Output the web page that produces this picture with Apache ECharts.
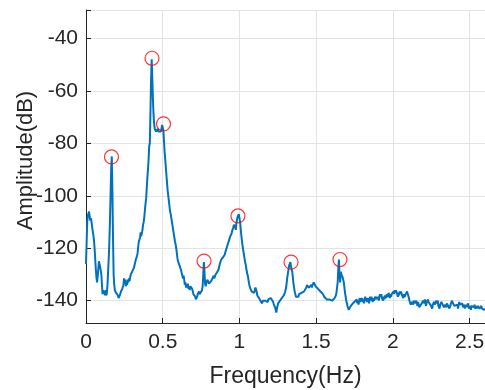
<!DOCTYPE html>
<html>
<head>
<meta charset="utf-8">
<script src="https://cdn.jsdelivr.net/npm/echarts@6/dist/echarts.min.js"></script>
<style>
  html, body { margin: 0; padding: 0; background: #fff; }
  #chart { width: 485px; height: 390px; }
</style>
</head>
<body>
<div id="chart"></div>
<script>
const freqStep = 0.004;
const amplitude = [
  /* 0.00 */ -126, -118, -110, -107.5, -108, -106, -108, -109.5, -108.5, -110,
  /* 0.04 */ -112, -113.5, -115, -117, -120, -124, -128, -131, -133, -131,
  /* 0.08 */ -128, -125, -126, -127, -126.5, -130, -134, -137.5, -136, -137.5,
  /* 0.12 */ -136.5, -138, -136, -138, -137, -134, -129, -124, -118, -110,
  /* 0.16 */ -100, -90, -85, -98, -116, -130, -134, -136, -136.5, -137,
  /* 0.20 */ -136.5, -137.5, -138, -139, -139.5, -138, -137.5, -136.5, -136, -135.5,
  /* 0.24 */ -136, -134, -131.5, -133, -132, -134.5, -133, -134, -132, -133,
  /* 0.28 */ -131.5, -132.5, -131, -130, -130.5, -129, -128.5, -129, -127.5, -127,
  /* 0.32 */ -125.5, -124.5, -125, -123, -122, -119.5, -117.5, -117, -116, -114,
  /* 0.36 */ -115.5, -115, -113, -111, -110, -108, -105.5, -103, -101, -97,
  /* 0.40 */ -93, -90, -86, -81, -80, -68, -56, -48, -55, -63,
  /* 0.44 */ -69, -72.5, -74.5, -75, -75.5, -75, -75.5, -74.5, -75.5, -75,
  /* 0.48 */ -75.5, -74.8, -75.5, -74.5, -73, -72.3, -75, -79, -83, -86,
  /* 0.52 */ -89, -92, -95, -98, -100, -102, -104, -106, -107, -108.5,
  /* 0.56 */ -110, -111.5, -113, -114.5, -116, -117.5, -118.5, -120, -122, -124,
  /* 0.60 */ -125, -125.5, -125, -127, -126.5, -128.5, -129.5, -130.5, -131.5, -130.5,
  /* 0.64 */ -132, -134, -133, -135, -134, -135, -133.5, -135.5, -134.5, -136,
  /* 0.68 */ -134.5, -135, -134, -135.5, -136.5, -137.5, -138, -137, -138.5, -139.5,
  /* 0.72 */ -140, -138.5, -137.5, -138, -136.5, -137.5, -137, -138, -137.5, -136,
  /* 0.76 */ -134.5, -130, -125.3, -129, -133.5, -134.5, -133, -133.5, -132, -132.5,
  /* 0.80 */ -133.5, -133, -134, -133.5, -132.5, -133, -131.5, -132, -130.5, -131.5,
  /* 0.84 */ -131, -130, -130.5, -129.5, -129, -129.5, -128, -127.5, -126, -125.5,
  /* 0.88 */ -124.5, -124, -124.5, -123.5, -124, -123, -122.5, -121.5, -121, -120,
  /* 0.92 */ -119.5, -118.5, -118, -117, -116.5, -115.5, -115, -114.5, -113.5, -113,
  /* 0.96 */ -112, -111, -110.5, -112, -113, -110.5, -109, -108, -107.5, -107,
  /* 1.00 */ -108.5, -110, -112.5, -115, -117, -119, -120.5, -122, -123.5, -125,
  /* 1.04 */ -126, -127.5, -129, -130, -131, -132.5, -134, -134.5, -135.5, -136,
  /* 1.08 */ -136.5, -136.5, -137, -136.5, -137, -136.5, -135, -134.5, -136.5, -138,
  /* 1.12 */ -137.5, -138.5, -139, -139.5, -140, -139.5, -140.5, -141, -140, -139.5,
  /* 1.16 */ -140, -139.5, -140, -140.5, -139.5, -140, -140.5, -139.5, -140, -139.5,
  /* 1.20 */ -140, -139, -139.5, -139, -139.5, -140.5, -141.5, -142, -142.5, -143.5,
  /* 1.24 */ -144.5, -143, -142, -141, -141.5, -140.5, -140, -139.5, -140, -139,
  /* 1.28 */ -138.5, -138.5, -138, -137.5, -137, -136, -135, -133, -131, -129.5,
  /* 1.32 */ -128, -126.5, -126, -125.3, -127, -128, -129, -131, -133.5, -135,
  /* 1.36 */ -136.5, -137.5, -138.5, -138, -138.5, -138, -138.5, -137.5, -138, -137,
  /* 1.40 */ -137.5, -137, -137.5, -136.5, -137, -136.5, -137, -136, -136.5, -135,
  /* 1.44 */ -134, -133.5, -134.5, -135, -134.5, -135.5, -135, -134, -135, -134,
  /* 1.48 */ -133.5, -133, -133.5, -133.5, -134.5, -134, -134.5, -135, -135.5, -135,
  /* 1.52 */ -136, -135.5, -136.5, -136, -137, -136.5, -137.5, -138, -138.5, -138,
  /* 1.56 */ -139, -138.5, -139.5, -139, -139.5, -140, -139.5, -140, -139, -139.5,
  /* 1.60 */ -139.5, -140, -140.5, -140, -139.5, -139, -138.5, -138, -137, -135,
  /* 1.64 */ -133, -128, -124.3, -130, -133, -129, -130, -130.5, -131, -132,
  /* 1.68 */ -133, -135, -137, -138.5, -140, -141, -142, -142.5, -143.5, -143,
  /* 1.72 */ -142.5, -142, -142.5, -141.5, -142, -141, -141.5, -140.5, -141, -140,
  /* 1.76 */ -140.5, -139.5, -141, -140, -141.5, -140, -139, -140.5, -139, -140,
  /* 1.80 */ -139, -140.5, -139.5, -141, -139.5, -138.5, -140, -139, -140.5, -140.5,
  /* 1.84 */ -139, -141, -139.5, -138.5, -140, -138.5, -139.5, -140.5, -139, -140,
  /* 1.88 */ -139.5, -138.5, -138, -139.5, -138.5, -139.5, -138.5, -140, -138.5, -137.5,
  /* 1.92 */ -138.5, -137.5, -139, -139, -140, -138.5, -139.5, -138, -138, -139,
  /* 1.96 */ -137.5, -137.5, -138.5, -137, -138, -139, -137.5, -138.5, -137.5, -137.5,
  /* 2.00 */ -137.5, -136.5, -137.5, -136, -137, -136, -136, -137.5, -138.5, -137,
  /* 2.04 */ -138, -136.5, -137.5, -136.5, -136.5, -138, -138, -139, -137.5, -138.5,
  /* 2.08 */ -139, -137.5, -137.5, -136.5, -136.5, -138, -139, -140, -140, -141.5,
  /* 2.12 */ -141.5, -140.5, -140.5, -141.5, -140, -140, -141, -141, -140, -141,
  /* 2.16 */ -142, -140.5, -141, -142.5, -143, -142, -142, -141, -141, -140,
  /* 2.20 */ -140, -141, -139.5, -141, -142, -140.5, -140.5, -139.5, -140.5, -140,
  /* 2.24 */ -140.5, -141.5, -141, -142, -143, -141.5, -141.5, -140.5, -141.5, -141,
  /* 2.28 */ -140, -141, -141, -140, -142, -142, -143, -141.5, -141.5, -140.5,
  /* 2.32 */ -140.5, -141.5, -141, -142.5, -142.5, -141.5, -141.5, -142.5, -141, -141,
  /* 2.36 */ -142, -141.5, -143, -143, -141.5, -141.5, -140, -140, -141, -141,
  /* 2.40 */ -142, -141.5, -141.5, -142.5, -142.5, -141.5, -143, -141.5, -140.5, -141.5,
  /* 2.44 */ -141, -142, -142, -141, -142.5, -141.5, -142, -143, -141.5, -142.5,
  /* 2.48 */ -141.5, -142.5, -141, -142, -143, -143, -142, -143.5, -142, -141.5,
  /* 2.52 */ -142.5, -141.5, -142.5, -141.5, -143, -143, -142, -143, -142, -142.5,
  /* 2.56 */ -142, -143, -143, -142.5, -142, -143, -143, -143.5, -142.5, -143.5,
  /* 2.60 */ -143
];

// detected peaks (red circles)
const peakFreq = [0.166, 0.430, 0.505, 0.769, 0.990, 1.336, 1.655];
const peakAmp = [-85.2, -47.6, -72.6, -124.9, -107.7, -125.3, -124.3];

const xTicks = [0, 0.5, 1, 1.5, 2, 2.5];
const yTicks = [-40, -60, -80, -100, -120, -140];

const axisColor = '#262626';
const font = '"Liberation Sans", Arial, Helvetica, sans-serif';

const lineData = amplitude.map((v, i) => [+(i * freqStep).toFixed(3), v]);
const peakData = peakFreq.map((f, i) => [f, peakAmp[i]]);

const chart = echarts.init(document.getElementById('chart'));
chart.setOption({
  animation: false,
  textStyle: { fontFamily: font },
  grid: { left: 86, right: 0, top: 10, bottom: 67, containLabel: false, outerBoundsMode: 'none' },
  xAxis: {
    type: 'value',
    min: 0,
    max: 2.6,
    interval: 0.5,
    name: 'Frequency(Hz)',
    nameLocation: 'middle',
    nameGap: 42,
    nameMoveOverlap: false,
    nameTextStyle: { fontSize: 23, color: axisColor, fontFamily: font },
    axisLine: { show: true, lineStyle: { color: axisColor, width: 1 } },
    axisTick: { show: true, inside: true, length: 5, lineStyle: { color: axisColor } },
    axisLabel: {
      fontSize: 21, color: axisColor, margin: 9, fontFamily: font,
      formatter: v => xTicks.includes(+v.toFixed(2)) ? String(+v.toFixed(2)) : ''
    },
    splitLine: { show: true, lineStyle: { color: '#e3e3e3', width: 1 } }
  },
  yAxis: {
    type: 'value',
    min: -148.5,
    max: -29.2,
    splitNumber: 6,
    name: 'Amplitude(dB)',
    nameLocation: 'middle',
    nameGap: 49,
    nameMoveOverlap: false,
    nameTextStyle: { fontSize: 22, color: axisColor, fontFamily: font, padding: [0, 0, 0, 12] },
    axisLine: { show: true, lineStyle: { color: axisColor, width: 1 } },
    axisTick: { show: true, inside: true, length: 5, lineStyle: { color: axisColor } },
    axisLabel: {
      fontSize: 21, color: axisColor, margin: 8, fontFamily: font,
      formatter: v => yTicks.includes(Math.round(v * 10) / 10) ? String(v) : ''
    },
    splitLine: { show: true, lineStyle: { color: '#e3e3e3', width: 1 } }
  },
  series: [
    {
      type: 'line',
      data: lineData,
      showSymbol: false,
      lineStyle: { color: '#0072BD', width: 2 },
      z: 2
    },
    {
      type: 'scatter',
      data: peakData,
      symbol: 'circle',
      symbolSize: 14,
      itemStyle: { color: 'rgba(0,0,0,0)', borderColor: '#ff0000', borderWidth: 1.2 },
      z: 3
    }
  ]
});
</script>
</body>
</html>
